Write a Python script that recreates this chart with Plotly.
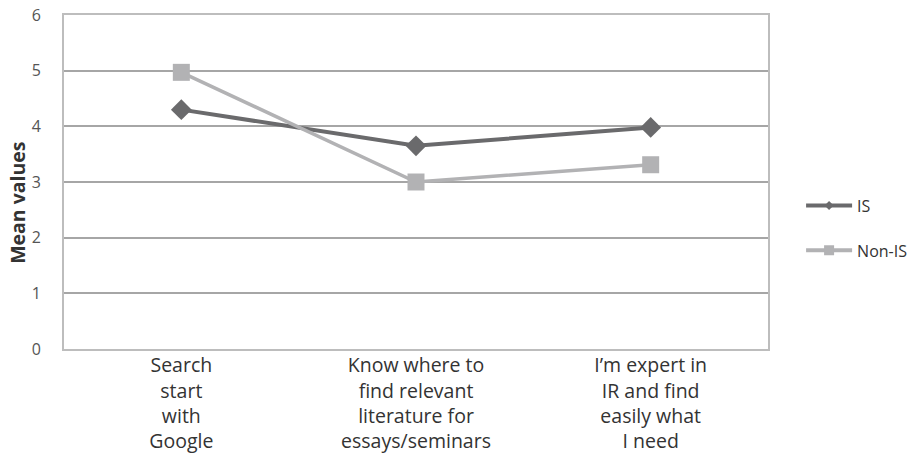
import plotly.graph_objects as go

categories = ["Search<br>start<br>with<br>Google",
              "Know where to<br>find relevant<br>literature for<br>essays/seminars",
              "I’m expert in<br>IR and find<br>easily what<br>I need"]
series_names = ["IS", "Non-IS"]
is_values = [4.3, 3.65, 3.98]
non_is_values = [4.97, 3.0, 3.31]
y_ticks = [0, 1, 2, 3, 4, 5, 6]
y_title = "Mean values"

FONT = "Open Sans"
C_IS = "#6a6a6c"
C_NON = "#b2b2b4"

fig = go.Figure()
fig.add_trace(go.Scatter(
    x=[0, 1, 2], y=is_values, name=series_names[0], mode="lines+markers",
    line=dict(color=C_IS, width=4),
    marker=dict(symbol="diamond", size=16, color=C_IS),
    showlegend=False,
))
fig.add_trace(go.Scatter(
    x=[0, 1, 2], y=non_is_values, name=series_names[1], mode="lines+markers",
    line=dict(color=C_NON, width=3.5),
    marker=dict(symbol="square", size=17, color=C_NON),
    showlegend=False,
))
# legend-only entries (smaller symbols, as in the original legend)
fig.add_trace(go.Scatter(
    x=[None], y=[None], name=series_names[0], mode="lines+markers",
    line=dict(color=C_IS, width=4), marker=dict(symbol="diamond", size=7, color=C_IS),
    legendgroup="a",
))
fig.add_trace(go.Scatter(
    x=[None], y=[None], name=series_names[1], mode="lines+markers",
    line=dict(color=C_NON, width=4), marker=dict(symbol="square", size=10, color=C_NON),
    legendgroup="b",
))

fig.update_layout(
    width=911, height=456,
    margin=dict(l=64, r=143, t=15, b=107, autoexpand=False),
    paper_bgcolor="white", plot_bgcolor="white",
    font=dict(family=FONT, color="#333333"),
    showlegend=True,
    legend=dict(x=1.047, y=0.362, xanchor="left", yanchor="middle",
                font=dict(size=16, color="#333333"),
                tracegroupgap=21, itemwidth=46),
    annotations=[dict(
        text="<b>" + y_title + "</b>", xref="paper", yref="paper",
        x=-0.067, y=0.437, xanchor="center", yanchor="middle", textangle=-90,
        showarrow=False, font=dict(size=19.5, color="#333333", family=FONT),
    )],
)
fig.update_xaxes(
    range=[-0.5, 2.5], tickmode="array", tickvals=[0, 1, 2], ticktext=categories,
    showgrid=False, showline=True, linecolor="#bdbdbd", linewidth=2, mirror=True,
    ticks="", tickfont=dict(size=19.5, color="#333333"), zeroline=False, automargin=False,
    ticklabelstandoff=-2,
)
fig.update_yaxes(
    range=[0, 6], tickmode="array", tickvals=y_ticks, ticktext=[str(v) for v in y_ticks],
    showgrid=True, gridcolor="#a6a6a6", gridwidth=1.5,
    showline=True, linecolor="#bdbdbd", linewidth=2, mirror=True,
    ticks="", ticklabelstandoff=18, tickfont=dict(size=16, color="#555555"), zeroline=False,
    automargin=False,
)

fig.write_html("out.html")
